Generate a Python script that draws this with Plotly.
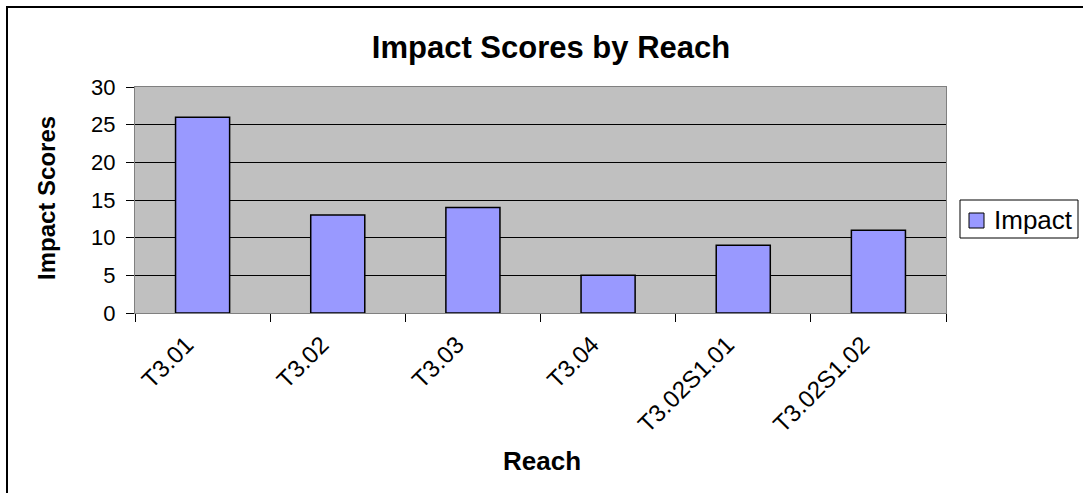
import plotly.graph_objects as go

reaches = ["T3.01", "T3.02", "T3.03", "T3.04", "T3.02S1.01", "T3.02S1.02"]
impact = [26, 13, 14, 5, 9, 11]
y_ticks = [0, 5, 10, 15, 20, 25, 30]
series_name = "Impact"

FONT = "Liberation Sans, Arial, sans-serif"
BAR_COLOR = "#9999FF"

W, H = 1083, 493
L, R, T, B = 135, 137, 87, 180
PW, PH = W - L - R, H - T - B


def px(x):
    return (x - L) / PW


def py(y):
    return (H - B - y) / PH


fig = go.Figure()
fig.add_trace(go.Bar(
    x=reaches, y=impact, name=series_name,
    marker=dict(color=BAR_COLOR, line=dict(color="#000000", width=1.5)),
    width=0.4,
))

fig.update_layout(
    width=W, height=H,
    margin=dict(l=L, r=R, t=T, b=B),
    paper_bgcolor="white",
    plot_bgcolor="#C0C0C0",
    font=dict(family=FONT, color="black", size=20),
    title=dict(text="<b>Impact Scores by Reach</b>", x=551 / W, xref="container", xanchor="center",
               y=1 - 47 / H, yref="container", yanchor="middle",
               font=dict(size=31, family=FONT, color="black")),
    showlegend=False,
    xaxis=dict(
        type="category", tickangle=-45, tickson="boundaries", ticks="outside", ticklen=8,
        tickcolor="black", showline=True, linecolor="#808080", mirror=True, linewidth=1,
        tickfont=dict(size=24, family=FONT), showgrid=False,
        ticklabelstandoff=7, ticklabelshift=-16,
    ),
    yaxis=dict(
        range=[0, 30], tickvals=y_ticks, ticks="outside", ticklen=8, tickcolor="black",
        showgrid=True, gridcolor="black", gridwidth=1, zeroline=False,
        showline=True, linecolor="#808080", mirror=True, linewidth=1,
        tickfont=dict(size=22, family=FONT), ticklabelstandoff=6,
    ),
    annotations=[
        dict(text="<b>Impact Scores</b>", textangle=-90, xref="paper", yref="paper",
             x=px(46), y=py(198), xanchor="center", yanchor="middle",
             showarrow=False, font=dict(size=24, family=FONT)),
        dict(text="<b>Reach</b>", xref="paper", yref="paper",
             x=px(542), y=py(461), xanchor="center", yanchor="middle",
             showarrow=False, font=dict(size=26, family=FONT)),
        dict(text=series_name, xref="paper", yref="paper",
             x=px(992), y=py(220), xanchor="left", yanchor="middle",
             showarrow=False, font=dict(size=26, family=FONT)),
    ],
    shapes=[
        dict(type="rect", xref="paper", yref="paper",
             x0=px(7), x1=px(1095), y0=py(505), y1=py(7),
             line=dict(color="black", width=2), fillcolor="rgba(0,0,0,0)", layer="below"),
        dict(type="rect", xref="paper", yref="paper",
             x0=px(960), x1=px(1078), y0=py(238), y1=py(200),
             line=dict(color="black", width=1), fillcolor="white"),
        dict(type="rect", xref="paper", yref="paper",
             x0=px(969), x1=px(984), y0=py(228), y1=py(213),
             line=dict(color="black", width=1), fillcolor=BAR_COLOR),
    ],
)

fig.write_html("out.html", config={"displayModeBar": False},
               post_script="document.body.style.margin='0';document.body.style.padding='0';")
